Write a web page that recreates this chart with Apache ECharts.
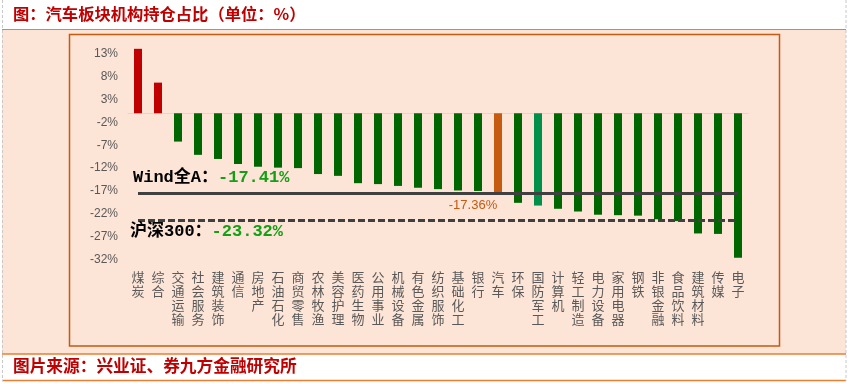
<!DOCTYPE html>
<html>
<head>
<meta charset="utf-8">
<script src="https://cdn.jsdelivr.net/npm/echarts@6/dist/echarts.min.js"></script>
<style>
html,body{margin:0;padding:0;background:#fff;}
#chart{width:851px;height:384px;}
</style>
</head>
<body>
<div id="chart"></div>
<script>
// ---- data ----
const categories = ['煤炭','综合','交通运输','社会服务','建筑装饰','通信','房地产','石油石化','商贸零售','农林牧渔','美容护理','医药生物','公用事业','机械设备','有色金属','纺织服饰','基础化工','银行','汽车','环保','国防军工','计算机','轻工制造','电力设备','家用电器','钢铁','非银金融','食品饮料','建筑材料','传媒','电子'];
const values = [14.1, 6.7, -6.2, -9.1, -10.0, -11.1, -11.7, -11.9, -12.0, -13.3, -13.7, -15.3, -15.5, -15.9, -16.3, -16.6, -16.9, -17.0, -17.36, -19.6, -20.2, -20.9, -21.5, -22.2, -22.3, -22.4, -23.2, -23.6, -26.3, -26.4, -31.6];
const WIND_A = -17.41;
const HS300 = -23.32;
const yTicks = [-32, -27, -22, -17, -12, -7, -2, 3, 8, 13];
const TITLE = '图：汽车板块机构持仓占比（单位：%）';
const SOURCE = '图片来源：兴业证、券九方金融研究所';

const HIGHLIGHT = '汽车';
const DEFENSE = '国防军工';

const chart = echarts.init(document.getElementById('chart'), null, {renderer: 'canvas'});

function colorFor(name, v) {
  if (name === HIGHLIGHT) return '#C55A11';
  if (name === DEFENSE) return '#00904A';
  return v >= 0 ? '#C00000' : '#006600';
}

const barData = values.map((v, i) => {
  const item = { value: v, itemStyle: { color: colorFor(categories[i], v) } };
  if (categories[i] === HIGHLIGHT) {
    item.label = {
      show: true,
      position: 'bottom',
      offset: [-25, 1],
      distance: 5,
      color: '#C55A11',
      fontFamily: '"Liberation Sans", Arial, sans-serif',
      fontSize: 13,
      formatter: (p) => p.value.toFixed(2) + '%'
    };
  }
  return item;
});

const monoFont = '"Liberation Mono", "Noto Sans CJK SC", monospace';

const option = {
  backgroundColor: '#FFFFFF',
  animation: false,
  graphic: [
    { type: 'rect', z: -10, silent: true, shape: { x: 2, y: 29, width: 844, height: 325 }, style: { fill: '#FCE4D6' } },
    { type: 'line', z: -9, silent: true, shape: { x1: 2, y1: 29.5, x2: 846, y2: 29.5 }, style: { stroke: '#ED7D31', lineWidth: 1.2 } },
    { type: 'line', z: -9, silent: true, shape: { x1: 2, y1: 354, x2: 846, y2: 354 }, style: { stroke: '#ED7D31', lineWidth: 1.5 } },
    { type: 'line', z: -9, silent: true, shape: { x1: 2, y1: 380.5, x2: 846, y2: 380.5 }, style: { stroke: '#ED7D31', lineWidth: 1.5 } },
    { type: 'line', z: -9, silent: true, shape: { x1: 2.5, y1: 0, x2: 2.5, y2: 381 }, style: { stroke: '#C8C8C8', lineWidth: 1, lineDash: [3, 2] } },
    { type: 'line', z: -9, silent: true, shape: { x1: 846, y1: 0, x2: 846, y2: 381 }, style: { stroke: '#C8C8C8', lineWidth: 1, lineDash: [3, 2] } },
    { type: 'rect', z: -8, silent: true, shape: { x: 69.5, y: 34.5, width: 710, height: 311.5 }, style: { fill: 'none', stroke: '#C55A11', lineWidth: 1.5 } },
    { type: 'text', left: 13, top: 6, silent: true, style: { text: TITLE, fill: '#C00000', font: 'bold 16.3px "Noto Sans CJK SC", sans-serif' } },
    { type: 'text', left: 13, top: 357, silent: true, style: { text: SOURCE, fill: '#C00000', font: 'bold 16.7px "Noto Sans CJK SC", sans-serif' } }
  ],
  grid: { left: 128, right: 103, top: 44.7, bottom: 124.5, containLabel: false },
  xAxis: [
    {
      type: 'category',
      data: categories,
      position: 'bottom',
      axisLine: { show: false, onZero: false },
      axisTick: { show: false },
      axisLabel: {
        interval: 0,
        margin: 10,
        color: '#595959',
        fontFamily: '"Noto Sans CJK SC", sans-serif',
        fontSize: 13,
        lineHeight: 14.3,
        verticalAlign: 'top',
        formatter: (v) => v.split('').join('\n')
      }
    },
    {
      type: 'category',
      data: categories,
      axisLine: { show: true, onZero: true, lineStyle: { color: '#D9D9D9', width: 1 } },
      axisTick: { show: false },
      axisLabel: { show: false }
    }
  ],
  yAxis: {
    type: 'value',
    min: yTicks[0],
    max: 15,
    interval: 5,
    axisLine: { show: false },
    axisTick: { show: false },
    splitLine: { show: false },
    axisLabel: {
      margin: 10,
      color: '#595959',
      fontFamily: '"Liberation Sans", Arial, sans-serif',
      fontSize: 12,
      formatter: (v) => {
        const r = Math.round(v);
        return yTicks.indexOf(r) >= 0 ? r + '%' : '';
      }
    }
  },
  series: [
    {
      type: 'bar',
      xAxisIndex: 0,
      barWidth: 8,
      data: barData,
      markLine: {
        silent: true,
        symbol: 'none',
        animation: false,
        data: [
          [
            {
              coord: [categories[0], WIND_A],
              lineStyle: { color: '#404040', width: 3, type: 'solid' },
              label: {
                show: true,
                position: 'insideStartTop',
                distance: [-5, 7],
                formatter: '{a|Wind全A：}{b|' + WIND_A.toFixed(2) + '%}',
                rich: {
                  a: { color: '#000000', fontFamily: monoFont, fontWeight: 'bold', fontSize: 17 },
                  b: { color: '#14A014', fontFamily: monoFont, fontWeight: 'bold', fontSize: 17 }
                }
              }
            },
            { coord: [categories[categories.length - 1], WIND_A] }
          ],
          [
            {
              coord: [categories[0], HS300],
              lineStyle: { color: '#404040', width: 3, type: [7, 3] },
              label: {
                show: true,
                position: 'insideStartBottom',
                distance: [-8, 3],
                formatter: '{a|沪深300：}{b|' + HS300.toFixed(2) + '%}',
                rich: {
                  a: { color: '#000000', fontFamily: monoFont, fontWeight: 'bold', fontSize: 17 },
                  b: { color: '#14A014', fontFamily: monoFont, fontWeight: 'bold', fontSize: 17 }
                }
              }
            },
            { coord: [categories[categories.length - 1], HS300] }
          ]
        ]
      }
    }
  ]
};

chart.setOption(option);
</script>
</body>
</html>
